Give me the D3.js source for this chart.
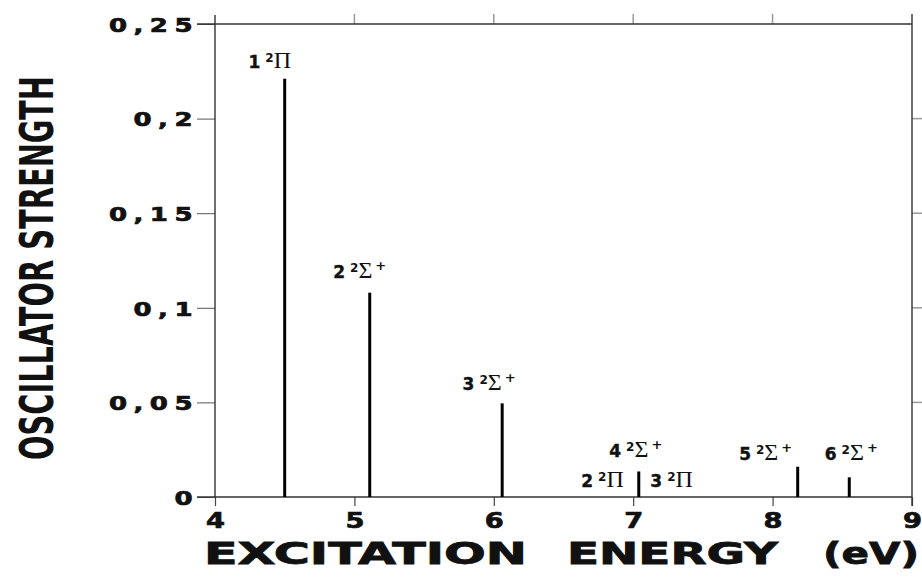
<!DOCTYPE html>
<html>
<head>
<meta charset="utf-8">
<script src="https://cdn.jsdelivr.net/npm/d3@7"></script>
<style>
  body { margin: 0; background: #fff; }
  svg { display: block; }
</style>
</head>
<body>
<script>
// excited states: level number, symmetry, energy (eV), oscillator strength
const levels = [1, 2, 3, 2, 4, 3, 5, 6];
const symmetry = ["Π", "Σ", "Σ", "Π", "Σ", "Π", "Σ", "Σ"];
const energies = [4.50, 5.11, 6.06, 6.99, 7.04, 7.08, 8.18, 8.55];
const strengths = [0.221, 0.108, 0.0495, 0, 0.0135, 0, 0.016, 0.0104];

const xTicks = [4, 5, 6, 7, 8, 9];
const yTicks = [0, 0.05, 0.1, 0.15, 0.2, 0.25];

const W = 922;
const H = 582;
const Lpad = 215;
const Rpad = 10;
const Tpad = 24;
const Bpad = 85;

// label placement next to each line: anchor, dx, dy
const labelPos = [
  ["middle", -15, -11],
  ["middle", -10, -15],
  ["middle", -13, -13],
  ["end", -8, -10],
  ["middle", -3, -14],
  ["start", 6, -10],
  ["middle", -32, -7],
  ["middle", 2, -17]
];

const svg = d3.select("body")
  .append("svg")
  .attr("width", W)
  .attr("height", H);

const xScale = d3.scaleLinear()
  .domain([4, 9])
  .range([Lpad, W - Rpad]);

const yScale = d3.scaleLinear()
  .domain([0, 0.25])
  .range([H - Bpad, Tpad]);

const labelFont = "'DejaVu Sans', sans-serif";
const sx = 1.3;

// left axis
const yAxis = d3.axisLeft(yScale)
  .tickValues(yTicks)
  .tickSize(18)
  .tickSizeOuter(0)
  .tickFormat(d => d === 0 ? "0" : String(+d.toFixed(2)).replace(".", ","));

const gy = svg.append("g")
  .attr("transform", `translate(${Lpad},0)`)
  .call(yAxis);
gy.select(".domain").remove();
gy.selectAll(".tick line").attr("stroke", "#555").attr("stroke-width", 1);
gy.selectAll(".tick text")
  .attr("x", -16 / sx)
  .attr("dy", "0.36em")
  .attr("transform", `scale(${sx},1)`)
  .style("font-family", labelFont)
  .style("font-weight", "bold")
  .style("font-size", "20px")
  .style("letter-spacing", "5px")
  .attr("fill", "#111")
  .attr("stroke", "#111")
  .attr("stroke-width", 0.7);

// bottom axis
const xAxis = d3.axisBottom(xScale)
  .tickValues(xTicks)
  .tickSize(9)
  .tickSizeOuter(0)
  .tickFormat(d3.format("d"));

const gx = svg.append("g")
  .attr("transform", `translate(0,${H - Bpad})`)
  .call(xAxis);
gx.select(".domain").remove();
gx.selectAll(".tick line").attr("stroke", "#444").attr("stroke-width", 1.2);
gx.selectAll(".tick text")
  .attr("y", 31)
  .attr("dy", 0)
  .attr("transform", `scale(${sx},1)`)
  .style("font-family", labelFont)
  .style("font-weight", "bold")
  .style("font-size", "21px")
  .attr("fill", "#111")
  .attr("stroke", "#111")
  .attr("stroke-width", 0.7);

// top ticks and right ticks
svg.selectAll(".ttick")
  .data(xTicks.slice(1, 5))
  .enter()
  .append("line")
  .attr("x1", d => xScale(d))
  .attr("x2", d => xScale(d))
  .attr("y1", Tpad)
  .attr("y2", Tpad - 10)
  .attr("stroke", "#999")
  .attr("stroke-width", 1.5);

svg.selectAll(".rtick")
  .data(yTicks.slice(1, 5))
  .enter()
  .append("line")
  .attr("x1", W - Rpad)
  .attr("x2", W)
  .attr("y1", d => yScale(d))
  .attr("y2", d => yScale(d))
  .attr("stroke", "#999")
  .attr("stroke-width", 1.5);

// frame
const frame = svg.append("g").attr("stroke", "#333").attr("stroke-width", 1.4);
frame.append("line")
  .attr("x1", Lpad - 18).attr("x2", W - Rpad)
  .attr("y1", yScale(0.25)).attr("y2", yScale(0.25));
frame.append("line")
  .attr("x1", Lpad - 18).attr("x2", W - Rpad)
  .attr("y1", yScale(0)).attr("y2", yScale(0));
frame.append("line")
  .attr("x1", xScale(4)).attr("x2", xScale(4))
  .attr("y1", yScale(0.25) - 9).attr("y2", yScale(0));
frame.append("line")
  .attr("x1", xScale(9)).attr("x2", xScale(9))
  .attr("y1", yScale(0.25) - 10).attr("y2", yScale(0) + 9);

// stick spectrum
const idx = d3.range(energies.length);

svg.selectAll(".stick")
  .data(idx)
  .enter()
  .append("line")
  .attr("class", "stick")
  .attr("x1", i => xScale(energies[i]))
  .attr("x2", i => xScale(energies[i]))
  .attr("y1", yScale(0))
  .attr("y2", i => yScale(strengths[i]))
  .attr("stroke", "#000")
  .attr("stroke-width", 3);

// state labels like 2²Σ⁺
const labels = svg.selectAll(".lab")
  .data(idx)
  .enter()
  .append("text")
  .attr("class", "lab")
  .attr("x", i => xScale(energies[i]) + labelPos[i][1])
  .attr("y", i => yScale(strengths[i]) + labelPos[i][2])
  .attr("text-anchor", i => labelPos[i][0])
  .attr("fill", "#111");

labels.each(function(i) {
  const t = d3.select(this);
  t.append("tspan")
    .text(levels[i])
    .style("font-family", labelFont)
    .style("font-weight", "bold")
    .style("font-size", "17px")
    .attr("stroke", "#111")
    .attr("stroke-width", 0.4);
  t.append("tspan")
    .text("2")
    .attr("dx", 5)
    .attr("dy", -6)
    .style("font-family", labelFont)
    .style("font-weight", "bold")
    .style("font-size", "12px");
  t.append("tspan")
    .text(symmetry[i])
    .attr("dy", 6)
    .style("font-family", "'Liberation Serif', serif")
    .style("font-size", "24px");
  if (symmetry[i] === "Σ") {
    t.append("tspan")
      .text("+")
      .attr("dx", 3)
      .attr("dy", -8)
      .style("font-family", labelFont)
      .style("font-weight", "bold")
      .style("font-size", "13px");
  }
});

// axis titles
const titleFont = "'DejaVu Sans', sans-serif";
const xTitle = [["EXCITATION", 204, 323], ["ENERGY", 567, 211], ["(eV)", 823, 96]];
svg.selectAll(".xtitle")
  .data(xTitle)
  .enter()
  .append("text")
  .attr("x", d => d[1])
  .attr("y", 564)
  .attr("textLength", d => d[2])
  .attr("lengthAdjust", "spacingAndGlyphs")
  .style("font-family", titleFont)
  .style("font-weight", "bold")
  .style("font-size", "30px")
  .attr("fill", "#111")
  .attr("stroke", "#111")
  .attr("stroke-width", 0.8)
  .text(d => d[0]);

const yTitle = svg.append("text")
  .style("font-family", "'Liberation Sans Narrow', 'DejaVu Sans Condensed', sans-serif")
  .style("font-weight", "bold")
  .style("font-size", "46px")
  .attr("fill", "#111")
  .text("OSCILLATOR STRENGTH");
const natural = yTitle.node().getComputedTextLength();
yTitle.attr("transform", `translate(53,460) rotate(-90) scale(${384 / natural},1)`);
</script>
</body>
</html>
